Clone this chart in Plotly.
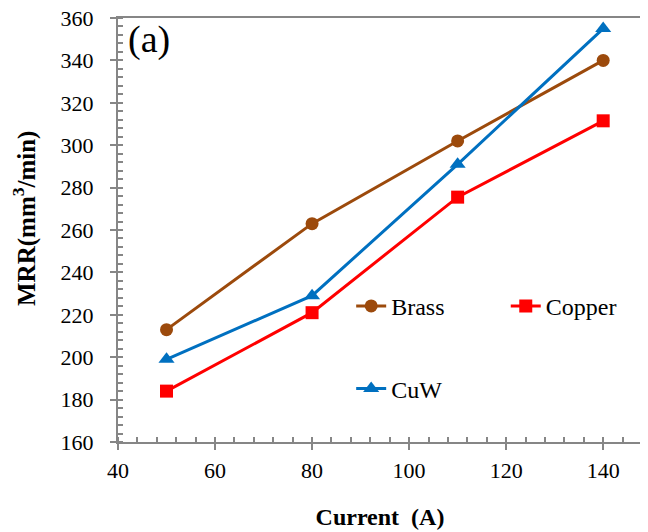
import plotly.graph_objects as go

current = [50, 80, 110, 140]
brass = [213, 263, 302, 340]
copper = [184, 221, 275.5, 311.5]
cuw = [199, 229, 291, 355]

x_ticks = [40, 60, 80, 100, 120, 140]
y_ticks = [160, 180, 200, 220, 240, 260, 280, 300, 320, 340, 360]

FONT = "'Times New Roman', 'Liberation Serif', serif"
AXIS_COLOR = "#868686"

fig = go.Figure()
fig.add_trace(go.Scatter(x=current, y=brass, name="Brass", mode="lines+markers",
                         line=dict(color="#9C4A0C", width=3),
                         marker=dict(symbol="circle", size=13, color="#9C4A0C"),
                         legend="legend"))
fig.add_trace(go.Scatter(x=current, y=copper, name="Copper", mode="lines+markers",
                         line=dict(color="#FF0000", width=3),
                         marker=dict(symbol="square", size=13, color="#FF0000"),
                         legend="legend2"))
fig.add_trace(go.Scatter(x=current, y=cuw, name="CuW", mode="lines+markers",
                         line=dict(color="#0070C0", width=3),
                         marker=dict(symbol="triangle-up", size=14, color="#0070C0"),
                         legend="legend3"))

axis_common = dict(showline=True, linecolor=AXIS_COLOR, linewidth=2, mirror=True,
                   showgrid=False, zeroline=False, ticks="outside", ticklen=6,
                   tickcolor=AXIS_COLOR, tickwidth=2, automargin=False,
                   ticklabeloverflow="allow",
                   tickfont=dict(family=FONT, size=22, color="black"))

fig.update_xaxes(range=[40, 148], tickvals=x_ticks, ticklabelstandoff=2,
                 minor=dict(ticks="inside", ticklen=5, dtick=4, tick0=40,
                            tickcolor=AXIS_COLOR, tickwidth=2),
                 title=dict(text="<b>Current  (A)</b>", font=dict(family=FONT, size=24, color="black"),
                            standoff=26),
                 **axis_common)
fig.update_yaxes(range=[160, 360], tickvals=y_ticks, ticklabelstandoff=12,
                 minor=dict(ticks="inside", ticklen=5, dtick=4, tick0=160,
                            tickcolor=AXIS_COLOR, tickwidth=2),
                 **axis_common)

# y-axis title (placed slightly above the plot centre, as in the reference)
fig.add_annotation(text="<b>MRR(mm<sup>3</sup>/min)</b>", xref="paper", yref="paper",
                   x=0, xshift=-93, y=0.526, xanchor="center", yanchor="middle",
                   textangle=-90, showarrow=False,
                   font=dict(family=FONT, size=25, color="black"))

fig.add_annotation(text="(a)", xref="paper", yref="paper", x=0.015, y=1.005,
                   xanchor="left", yanchor="top", showarrow=False,
                   font=dict(family=FONT, size=38, color="black"))

leg_font = dict(family=FONT, size=24, color="black")
fig.update_layout(
    width=648, height=532,
    margin=dict(l=110, r=14, t=10, b=98),
    paper_bgcolor="white", plot_bgcolor="white",
    showlegend=True,
    legend=dict(x=0.445, y=0.32, xanchor="left", yanchor="middle",
                font=leg_font, bgcolor="rgba(0,0,0,0)"),
    legend2=dict(x=0.74, y=0.32, xanchor="left", yanchor="middle",
                 font=leg_font, bgcolor="rgba(0,0,0,0)"),
    legend3=dict(x=0.445, y=0.125, xanchor="left", yanchor="middle",
                 font=leg_font, bgcolor="rgba(0,0,0,0)"),
)

fig.write_html("out.html")
